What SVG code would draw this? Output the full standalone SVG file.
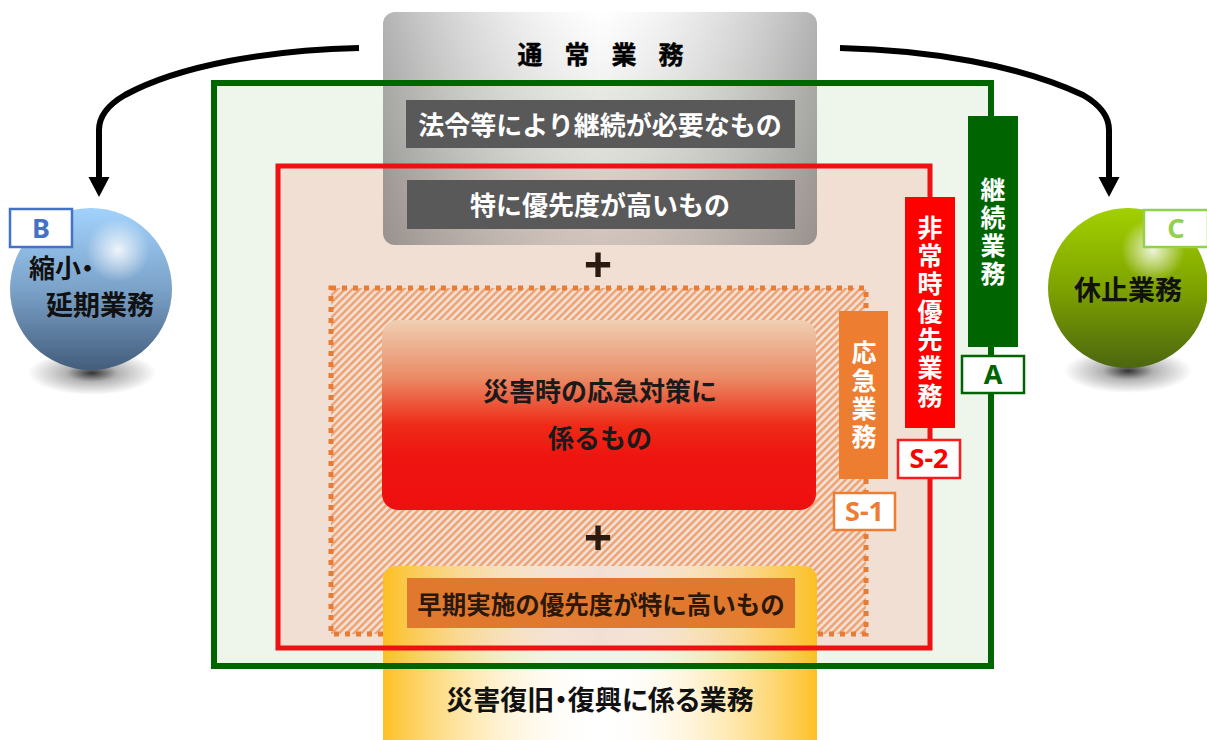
<svg xmlns="http://www.w3.org/2000/svg" width="1207" height="740" viewBox="0 0 1207 740">
  <defs>
    <style>
      .jp { font-family: "Noto Sans CJK JP", "Noto Sans CJK SC", sans-serif; font-weight: bold; }
      .lat { font-family: "Noto Sans", "Liberation Sans", sans-serif; font-weight: bold; }
      .prop { font-feature-settings: "palt"; }
      .vt { fill: #ffffff; font-size: 25px; text-anchor: middle; }
      .tag { fill: #ffffff; stroke-width: 2.5; }
      .flow { fill: none; stroke: #000000; stroke-width: 6; }
    </style>
    <marker id="head" markerUnits="userSpaceOnUse" markerWidth="22" markerHeight="22" viewBox="0 0 22 22" refX="0" refY="10.5" orient="auto">
      <path d="M0,0 L20,10.5 L0,21 z" fill="#000000"/>
    </marker>
    <pattern id="hatch" patternUnits="userSpaceOnUse" width="5.2" height="5.2" patternTransform="rotate(45)">
      <rect width="5.2" height="5.2" fill="#f2dfd4"/>
      <rect x="0" y="0" width="2.4" height="5.2" fill="#eea272"/>
    </pattern>
    <linearGradient id="grayH" x1="0" y1="0" x2="1" y2="0">
      <stop offset="0" stop-color="#9a9a9a" stop-opacity="0.75"/>
      <stop offset="0.5" stop-color="#ffffff" stop-opacity="0.3"/>
      <stop offset="1" stop-color="#9a9a9a" stop-opacity="0.75"/>
    </linearGradient>
    <linearGradient id="grayV" x1="0" y1="0" x2="0" y2="1">
      <stop offset="0" stop-color="#3a2a20" stop-opacity="0"/>
      <stop offset="1" stop-color="#3a2a20" stop-opacity="0.2"/>
    </linearGradient>
    <linearGradient id="yellowH" x1="0" y1="0" x2="1" y2="0">
      <stop offset="0" stop-color="#fdbd18" stop-opacity="0.95"/>
      <stop offset="0.5" stop-color="#ffffff" stop-opacity="0"/>
      <stop offset="1" stop-color="#fdbd18" stop-opacity="0.95"/>
    </linearGradient>
    <linearGradient id="redV" x1="0" y1="0" x2="0" y2="1">
      <stop offset="0" stop-color="#f0cfb2"/>
      <stop offset="0.3" stop-color="#ea8c66"/>
      <stop offset="0.55" stop-color="#ee2c18"/>
      <stop offset="0.72" stop-color="#ee1410"/>
      <stop offset="1" stop-color="#ee1010"/>
    </linearGradient>
    <linearGradient id="blueBall" x1="0" y1="0" x2="0" y2="1">
      <stop offset="0" stop-color="#a2d2fc"/>
      <stop offset="0.5" stop-color="#7ba2c9"/>
      <stop offset="1" stop-color="#435d7c"/>
    </linearGradient>
    <linearGradient id="greenBall" x1="0" y1="0" x2="0" y2="1">
      <stop offset="0" stop-color="#a2d000"/>
      <stop offset="0.5" stop-color="#7ea300"/>
      <stop offset="1" stop-color="#4c6610"/>
    </linearGradient>
    <radialGradient id="gloss">
      <stop offset="0" stop-color="#ffffff" stop-opacity="0.85"/>
      <stop offset="1" stop-color="#ffffff" stop-opacity="0"/>
    </radialGradient>
    <radialGradient id="shade">
      <stop offset="0" stop-color="#000000" stop-opacity="0.8"/>
      <stop offset="0.4" stop-color="#000000" stop-opacity="0.3"/>
      <stop offset="1" stop-color="#000000" stop-opacity="0"/>
    </radialGradient>
    <clipPath id="yellowClip">
      <rect x="383" y="566" width="434" height="190" rx="13"/>
    </clipPath>
  </defs>

  <!-- background areas -->
  <g id="areas">
    <rect x="214" y="83" width="777" height="583" fill="#eef5eb"/>
    <rect x="278" y="166" width="652" height="482" fill="#f2dfd4"/>
  </g>

  <!-- emergency response area (hatched) -->
  <g id="emergency-area">
    <rect x="331" y="288" width="535" height="346" fill="url(#hatch)" stroke="#e87c34" stroke-width="5" stroke-dasharray="5 6"/>
  </g>

  <!-- ordinary work -->
  <g id="ordinary">
    <rect x="383" y="12" width="434" height="233" rx="12" fill="url(#grayH)"/>
    <rect x="383" y="12" width="434" height="233" rx="12" fill="url(#grayV)"/>
  </g>

  <!-- recovery work -->
  <g id="recovery">
    <g clip-path="url(#yellowClip)">
      <rect x="383" y="566" width="434" height="82" fill="#f2dfd4"/>
      <rect x="383" y="648" width="434" height="18" fill="#eef5eb"/>
      <rect x="383" y="666" width="434" height="90" fill="#ffffff"/>
      <rect x="383" y="566" width="434" height="190" fill="url(#yellowH)"/>
    </g>
  </g>

  <!-- disaster response -->
  <g id="disaster">
    <rect x="382" y="320" width="434" height="190" rx="16" fill="url(#redV)"/>
  </g>

  <!-- area frames -->
  <g id="frames" fill="none">
    <rect x="214" y="83" width="777" height="583" stroke="#006400" stroke-width="6"/>
    <rect x="278" y="166" width="652" height="482" stroke="#ee1111" stroke-width="5"/>
  </g>

  <!-- inner captions -->
  <g id="ordinary-text">
    <text class="jp" x="530 577 624 671" y="64" font-size="25" text-anchor="middle" fill="#000000" stroke="#000000" stroke-width="0.4">通常業務</text>
  </g>
  <g id="legal">
    <rect x="406" y="100" width="389" height="48" fill="#595959"/>
    <text class="jp" x="600" y="135" font-size="26" text-anchor="middle" fill="#ffffff">法令等により継続が必要なもの</text>
  </g>
  <g id="high-priority">
    <rect x="407" y="180" width="388" height="49" fill="#595959"/>
    <text class="jp" x="600" y="215" font-size="26" text-anchor="middle" fill="#ffffff">特に優先度が高いもの</text>
  </g>
  <g id="plus-signs">
    <text class="lat" x="598" y="283" font-size="50" text-anchor="middle" fill="#2a1a10">+</text>
    <text class="lat" x="598" y="556" font-size="50" text-anchor="middle" fill="#2a1a10">+</text>
  </g>
  <g id="disaster-text">
    <text class="jp" x="600" y="401" font-size="26" text-anchor="middle" fill="#1a1a1a">災害時の応急対策に</text>
    <text class="jp" x="600" y="448" font-size="26" text-anchor="middle" fill="#1a1a1a">係るもの</text>
  </g>
  <g id="early">
    <rect x="407" y="578" width="388" height="50" fill="#e0782e"/>
    <text class="jp" x="601" y="614" font-size="24.5" text-anchor="middle" fill="#2a180c">早期実施の優先度が特に高いもの</text>
  </g>
  <g id="recovery-text">
    <text class="jp prop" x="600" y="710" font-size="27" text-anchor="middle" fill="#111111">災害復旧・復興に係る業務</text>
  </g>

  <!-- side labels -->
  <g id="label-response">
    <rect x="839" y="311" width="49" height="168" fill="#ed7d31"/>
    <text class="jp vt" x="864 864 864 864" y="362 390 418 446">応急業務</text>
  </g>
  <g id="tag-s1">
    <rect class="tag" x="834" y="493" width="61" height="37" stroke="#ed7d31"/>
    <text class="lat" x="864.5" y="521" font-size="27" text-anchor="middle" fill="#ed7d31">S-1</text>
  </g>
  <g id="label-priority">
    <rect x="905" y="197" width="50" height="231" fill="#ff0000"/>
    <text class="jp vt" x="930 930 930 930 930 930 930" y="237 265 293 321 349 377 405">非常時優先業務</text>
  </g>
  <g id="tag-s2">
    <rect class="tag" x="898" y="440" width="62" height="38" stroke="#ff1a1a"/>
    <text class="lat" x="929" y="468" font-size="27" text-anchor="middle" fill="#ff0000">S-2</text>
  </g>
  <g id="label-continue">
    <rect x="968" y="116" width="50" height="231" fill="#006400"/>
    <text class="jp vt" x="993 993 993 993" y="199 227 255 283">継続業務</text>
  </g>
  <g id="tag-a">
    <rect class="tag" x="962" y="356" width="62" height="37" stroke="#006400"/>
    <text class="lat" x="993" y="384" font-size="27" text-anchor="middle" fill="#006400">A</text>
  </g>

  <!-- reduced / postponed work -->
  <g id="ball-b">
    <ellipse cx="92" cy="373" rx="64" ry="22" fill="url(#shade)"/>
    <circle cx="91" cy="289" r="81" fill="url(#blueBall)"/>
    <circle cx="118" cy="250" r="32" fill="url(#gloss)"/>
    <text class="jp prop" x="29" y="278" font-size="26" fill="#111111">縮小・</text>
    <text class="jp" x="46" y="315" font-size="27" fill="#111111">延期業務</text>
    <rect class="tag" x="10" y="209" width="62" height="38" stroke="#4472c4" stroke-width="2"/>
    <text class="lat" x="41" y="238" font-size="27" text-anchor="middle" fill="#4472c4">B</text>
  </g>

  <!-- suspended work -->
  <g id="ball-c">
    <ellipse cx="1128" cy="371" rx="64" ry="22" fill="url(#shade)"/>
    <circle cx="1128" cy="288" r="80" fill="url(#greenBall)"/>
    <circle cx="1153" cy="250" r="32" fill="url(#gloss)"/>
    <text class="jp" x="1128" y="300" font-size="27" text-anchor="middle" fill="#111111">休止業務</text>
    <rect class="tag" x="1144" y="210" width="64" height="37" stroke="#92d050" stroke-width="2"/>
    <text class="lat" x="1176" y="238" font-size="27" text-anchor="middle" fill="#92d050">C</text>
  </g>

  <!-- connectors -->
  <g id="connectors">
    <path class="flow" d="M359,48 C270,50 180,65 125,95 Q99,110 99,130 V177" marker-end="url(#head)"/>
    <path class="flow" d="M840,48 C929,50 1019,65 1083,95 Q1109,110 1109,130 V177" marker-end="url(#head)"/>
  </g>
</svg>
